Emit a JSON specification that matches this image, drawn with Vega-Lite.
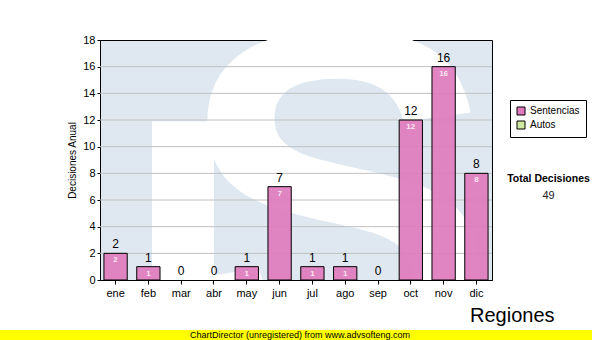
{
  "$schema": "https://vega.github.io/schema/vega-lite/v6.json",
  "background": "white",
  "padding": {"left": 0, "top": 33, "right": 0, "bottom": 0},
  "center": true,
  "bounds": "flush",
  "spacing": 50,
  "config": {"font": "Liberation Sans", "axis": {"labelOverlap": false}},
  "vconcat": [
    {
      "width": 392,
      "height": 240,
      "view": {"fill": "#dfe8f1", "stroke": "#000000", "strokeWidth": 1},
      "title": {
        "text": "Total Decisiones",
        "subtitle": "49",
        "orient": "top",
        "anchor": "end",
        "align": "center",
        "dx": 56,
        "dy": 171,
        "font": "Liberation Sans",
        "fontSize": 10.5,
        "fontWeight": "bold",
        "color": "#000000",
        "subtitleFont": "Liberation Sans",
        "subtitleFontSize": 11,
        "subtitleColor": "#222222",
        "subtitlePadding": 6
      },
      "data": {
        "values": [
          {"mes": "ene", "valor": 2, "serie": "Sentencias"},
          {"mes": "feb", "valor": 1, "serie": "Sentencias"},
          {"mes": "mar", "valor": 0, "serie": "Sentencias"},
          {"mes": "abr", "valor": 0, "serie": "Sentencias"},
          {"mes": "may", "valor": 1, "serie": "Sentencias"},
          {"mes": "jun", "valor": 7, "serie": "Sentencias"},
          {"mes": "jul", "valor": 1, "serie": "Sentencias"},
          {"mes": "ago", "valor": 1, "serie": "Sentencias"},
          {"mes": "sep", "valor": 0, "serie": "Sentencias"},
          {"mes": "oct", "valor": 12, "serie": "Sentencias"},
          {"mes": "nov", "valor": 16, "serie": "Sentencias"},
          {"mes": "dic", "valor": 8, "serie": "Sentencias"}
        ]
      },
      "encoding": {
        "y": {
          "field": "valor",
          "type": "quantitative",
          "scale": {"domain": [0, 18], "nice": false},
          "axis": {
            "title": "Decisiones Anual",
            "titleFont": "Liberation Sans",
            "titleFontSize": 10,
            "titleFontWeight": "normal",
            "titleColor": "#000000",
            "titlePadding": 5,
            "values": [0, 2, 4, 6, 8, 10, 12, 14, 16, 18],
            "labelOverlap": false,
            "labelFontSize": 11,
            "labelColor": "#000000",
            "labelPadding": 2,
            "domainColor": "#000000",
            "tickColor": "#000000",
            "tickSize": 3,
            "grid": false
          }
        }
      },
      "layer": [
        {
          "data": {"values": [{"w": "S"}]},
          "mark": {
            "type": "text",
            "font": "Liberation Sans",
            "fontWeight": "bold",
            "fontSize": 480,
            "color": "#ffffff",
            "align": "center",
            "baseline": "middle",
            "dx": 42,
            "dy": 61,
            "clip": true
          },
          "encoding": {"y": null, "text": {"field": "w"}}
        },
        {
          "data": {"values": [{"w": "I"}]},
          "mark": {
            "type": "text",
            "font": "Liberation Sans",
            "fontWeight": "bold",
            "fontSize": 430,
            "color": "#ffffff",
            "align": "center",
            "baseline": "middle",
            "dx": -113,
            "dy": 128,
            "clip": true
          },
          "encoding": {"y": null, "text": {"field": "w"}}
        },
        {
          "data": {"values": [{"valor": 2}, {"valor": 4}, {"valor": 6}, {"valor": 8}, {"valor": 10}, {"valor": 12}, {"valor": 14}, {"valor": 16}]},
          "mark": {"type": "rule", "color": "#c0c0c0", "strokeWidth": 1},
          "encoding": {}
        },
        {
          "transform": [{"filter": "datum.valor > 0"}],
          "mark": {"type": "bar", "stroke": "#000000", "strokeWidth": 1, "fillOpacity": 0.92},
          "encoding": {
            "x": {
              "field": "mes",
              "type": "nominal",
              "sort": ["ene", "feb", "mar", "abr", "may", "jun", "jul", "ago", "sep", "oct", "nov", "dic"],
              "scale": {"paddingInner": 0.29, "paddingOuter": 0.12},
              "axis": {
                "title": null,
                "labelAngle": 0,
                "labelFontSize": 11,
                "labelColor": "#000000",
                "labelPadding": 3,
                "domainColor": "#000000",
                "tickColor": "#000000",
                "tickSize": 4
              }
            },
            "color": {
              "field": "serie",
              "type": "nominal",
              "scale": {"domain": ["Sentencias", "Autos"], "range": ["#de7abd", "#d2e9a2"]},
              "legend": {
                "title": null,
                "orient": "none",
                "legendX": 510,
                "legendY": 60,
                "strokeColor": "#000000",
                "fillColor": "#ffffff",
                "padding": 6,
                "symbolType": "square",
                "symbolSize": 64,
                "symbolStrokeColor": "#000000",
                "symbolStrokeWidth": 1,
                "symbolOpacity": 1,
                "labelFont": "Liberation Sans",
                "labelFontSize": 10,
                "labelColor": "#000000",
                "labelOffset": 4,
                "rowPadding": 2
              }
            }
          }
        },
        {
          "mark": {"type": "text", "baseline": "bottom", "dy": -2, "fontSize": 12, "color": "#000000"},
          "encoding": {
            "x": {"field": "mes", "type": "nominal", "sort": ["ene", "feb", "mar", "abr", "may", "jun", "jul", "ago", "sep", "oct", "nov", "dic"]},
            "text": {"field": "valor", "type": "quantitative"}
          }
        },
        {
          "transform": [{"filter": "datum.valor > 0"}],
          "mark": {"type": "text", "baseline": "top", "dy": 3, "fontSize": 8, "fontWeight": "bold", "color": "#fbe8f4"},
          "encoding": {
            "x": {"field": "mes", "type": "nominal", "sort": ["ene", "feb", "mar", "abr", "may", "jun", "jul", "ago", "sep", "oct", "nov", "dic"]},
            "text": {"field": "valor", "type": "quantitative"}
          }
        }
      ]
    },
    {
      "width": 592,
      "height": 10,
      "view": {"fill": "#ffff00", "stroke": null},
      "title": {
        "text": "Regiones",
        "anchor": "start",
        "dx": 470,
        "offset": 4,
        "font": "Liberation Sans",
        "fontSize": 20,
        "fontWeight": "normal",
        "color": "#000000"
      },
      "data": {"values": [{"t": "ChartDirector (unregistered) from www.advsofteng.com"}]},
      "mark": {"type": "text", "font": "Liberation Sans", "fontSize": 9, "color": "#000000", "dx": 4},
      "encoding": {"text": {"field": "t"}}
    }
  ]
}
